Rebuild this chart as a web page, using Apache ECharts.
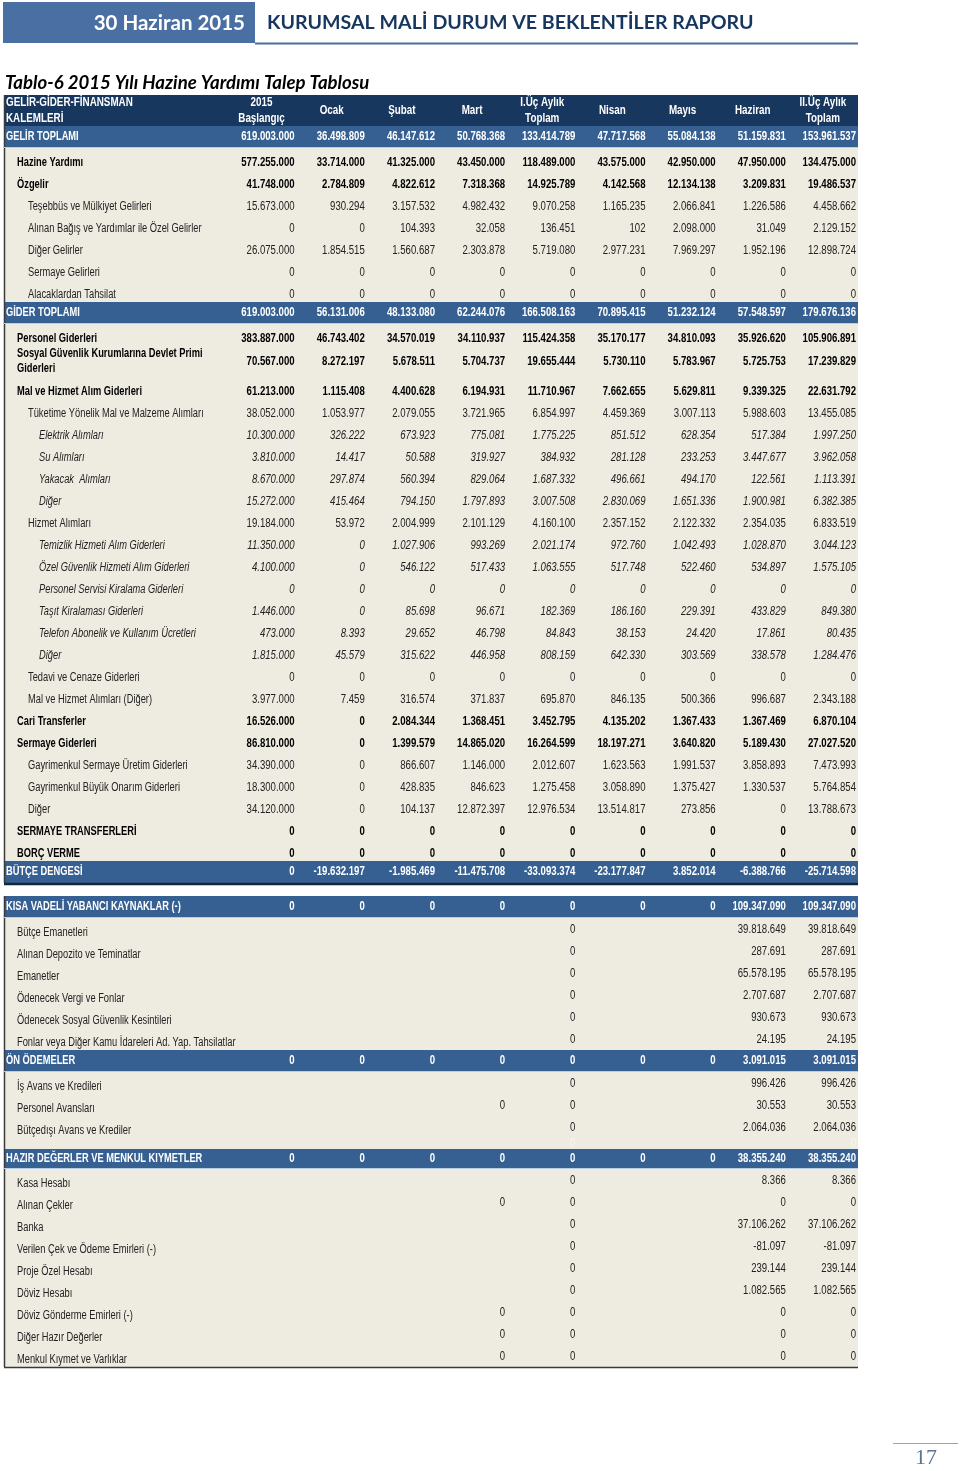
<!DOCTYPE html>
<html>
<head>
<meta charset="utf-8">
<script src="https://cdn.jsdelivr.net/npm/echarts@6/dist/echarts.min.js"></script>
<style>
html,body{margin:0;padding:0;background:#ffffff;}
#chart{width:960px;height:1471px;}
</style>
</head>
<body>
<div id="chart"></div>
<script>
// ---------------- DATA ----------------
const pageDate = '30 Haziran 2015';
const reportTitle = 'KURUMSAL MALİ DURUM VE BEKLENTİLER RAPORU';
const tableTitle = 'Tablo-6 2015 Yılı Hazine Yardımı Talep Tablosu';
const pageNumber = '17';

const headerLabel = 'GELİR-GİDER-FİNANSMAN\nKALEMLERİ';
const columns = ['2015\nBaşlangıç', 'Ocak', 'Şubat', 'Mart', 'I.Üç Aylık\nToplam', 'Nisan', 'Mayıs', 'Haziran', 'II.Üç Aylık\nToplam'];

const gelirLabels = ['GELİR TOPLAMI', 'Hazine Yardımı', 'Özgelir', 'Teşebbüs ve Mülkiyet Gelirleri',
  'Alınan Bağış ve Yardımlar ile Özel Gelirler', 'Diğer Gelirler', 'Sermaye Gelirleri', 'Alacaklardan Tahsilat'];
const gelirValues = [
  [619003000, 36498809, 46147612, 50768368, 133414789, 47717568, 55084138, 51159831, 153961537],
  [577255000, 33714000, 41325000, 43450000, 118489000, 43575000, 42950000, 47950000, 134475000],
  [41748000, 2784809, 4822612, 7318368, 14925789, 4142568, 12134138, 3209831, 19486537],
  [15673000, 930294, 3157532, 4982432, 9070258, 1165235, 2066841, 1226586, 4458662],
  [0, 0, 104393, 32058, 136451, 102, 2098000, 31049, 2129152],
  [26075000, 1854515, 1560687, 2303878, 5719080, 2977231, 7969297, 1952196, 12898724],
  [0, 0, 0, 0, 0, 0, 0, 0, 0],
  [0, 0, 0, 0, 0, 0, 0, 0, 0]
];

const giderLabels = ['GİDER TOPLAMI', 'Personel Giderleri', 'Sosyal Güvenlik Kurumlarına Devlet Primi\nGiderleri',
  'Mal ve Hizmet Alım Giderleri', 'Tüketime Yönelik Mal ve Malzeme Alımları', 'Elektrik Alımları', 'Su Alımları',
  'Yakacak  Alımları', 'Diğer', 'Hizmet Alımları', 'Temizlik Hizmeti Alım Giderleri',
  'Özel Güvenlik Hizmeti Alım Giderleri', 'Personel Servisi Kiralama Giderleri', 'Taşıt Kiralaması Giderleri',
  'Telefon Abonelik ve Kullanım Ücretleri', 'Diğer', 'Tedavi ve Cenaze Giderleri', 'Mal ve Hizmet Alımları (Diğer)',
  'Cari Transferler', 'Sermaye Giderleri', 'Gayrimenkul Sermaye Üretim Giderleri', 'Gayrimenkul Büyük Onarım Giderleri',
  'Diğer', 'SERMAYE TRANSFERLERİ', 'BORÇ VERME'];
const giderValues = [
  [619003000, 56131006, 48133080, 62244076, 166508163, 70895415, 51232124, 57548597, 179676136],
  [383887000, 46743402, 34570019, 34110937, 115424358, 35170177, 34810093, 35926620, 105906891],
  [70567000, 8272197, 5678511, 5704737, 19655444, 5730110, 5783967, 5725753, 17239829],
  [61213000, 1115408, 4400628, 6194931, 11710967, 7662655, 5629811, 9339325, 22631792],
  [38052000, 1053977, 2079055, 3721965, 6854997, 4459369, 3007113, 5988603, 13455085],
  [10300000, 326222, 673923, 775081, 1775225, 851512, 628354, 517384, 1997250],
  [3810000, 14417, 50588, 319927, 384932, 281128, 233253, 3447677, 3962058],
  [8670000, 297874, 560394, 829064, 1687332, 496661, 494170, 122561, 1113391],
  [15272000, 415464, 794150, 1797893, 3007508, 2830069, 1651336, 1900981, 6382385],
  [19184000, 53972, 2004999, 2101129, 4160100, 2357152, 2122332, 2354035, 6833519],
  [11350000, 0, 1027906, 993269, 2021174, 972760, 1042493, 1028870, 3044123],
  [4100000, 0, 546122, 517433, 1063555, 517748, 522460, 534897, 1575105],
  [0, 0, 0, 0, 0, 0, 0, 0, 0],
  [1446000, 0, 85698, 96671, 182369, 186160, 229391, 433829, 849380],
  [473000, 8393, 29652, 46798, 84843, 38153, 24420, 17861, 80435],
  [1815000, 45579, 315622, 446958, 808159, 642330, 303569, 338578, 1284476],
  [0, 0, 0, 0, 0, 0, 0, 0, 0],
  [3977000, 7459, 316574, 371837, 695870, 846135, 500366, 996687, 2343188],
  [16526000, 0, 2084344, 1368451, 3452795, 4135202, 1367433, 1367469, 6870104],
  [86810000, 0, 1399579, 14865020, 16264599, 18197271, 3640820, 5189430, 27027520],
  [34390000, 0, 866607, 1146000, 2012607, 1623563, 1991537, 3858893, 7473993],
  [18300000, 0, 428835, 846623, 1275458, 3058890, 1375427, 1330537, 5764854],
  [34120000, 0, 104137, 12872397, 12976534, 13514817, 273856, 0, 13788673],
  [0, 0, 0, 0, 0, 0, 0, 0, 0],
  [0, 0, 0, 0, 0, 0, 0, 0, 0]
];

const butceLabels = ['BÜTÇE DENGESİ'];
const butceValues = [
  [0, -19632197, -1985469, -11475708, -33093374, -23177847, 3852014, -6388766, -25714598]
];

const kisaLabels = ['KISA VADELİ YABANCI KAYNAKLAR (-)', 'Bütçe Emanetleri', 'Alınan Depozito ve Teminatlar', 'Emanetler',
  'Ödenecek Vergi ve Fonlar', 'Ödenecek Sosyal Güvenlik Kesintileri', 'Fonlar veya Diğer Kamu İdareleri Ad. Yap. Tahsilatlar'];
const kisaValues = [
  [0, 0, 0, 0, 0, 0, 0, 109347090, 109347090],
  [null, null, null, null, 0, null, null, 39818649, 39818649],
  [null, null, null, null, 0, null, null, 287691, 287691],
  [null, null, null, null, 0, null, null, 65578195, 65578195],
  [null, null, null, null, 0, null, null, 2707687, 2707687],
  [null, null, null, null, 0, null, null, 930673, 930673],
  [null, null, null, null, 0, null, null, 24195, 24195]
];

const onOdemeLabels = ['ÖN ÖDEMELER', 'İş Avans ve Kredileri', 'Personel Avansları', 'Bütçedışı Avans ve Krediler', ''];
const onOdemeValues = [
  [0, 0, 0, 0, 0, 0, 0, 3091015, 3091015],
  [null, null, null, null, 0, null, null, 996426, 996426],
  [null, null, null, 0, 0, null, null, 30553, 30553],
  [null, null, null, null, 0, null, null, 2064036, 2064036],
  [null, null, null, null, 0, null, null, null, 0]
];

const hazirLabels = ['HAZIR DEĞERLER VE MENKUL KIYMETLER', 'Kasa Hesabı', 'Alınan Çekler', 'Banka',
  'Verilen Çek ve Ödeme Emirleri (-)', 'Proje Özel Hesabı', 'Döviz Hesabı', 'Döviz Gönderme Emirleri (-)',
  'Diğer Hazır Değerler', 'Menkul Kıymet ve Varlıklar'];
const hazirValues = [
  [0, 0, 0, 0, 0, 0, 0, 38355240, 38355240],
  [null, null, null, null, 0, null, null, 8366, 8366],
  [null, null, null, 0, 0, null, null, 0, 0],
  [null, null, null, null, 0, null, null, 37106262, 37106262],
  [null, null, null, null, 0, null, null, -81097, -81097],
  [null, null, null, null, 0, null, null, 239144, 239144],
  [null, null, null, null, 0, null, null, 1082565, 1082565],
  [null, null, null, 0, 0, null, null, 0, 0],
  [null, null, null, 0, 0, null, null, 0, 0],
  [null, null, null, 0, 0, null, null, 0, 0]
];

// ---------------- STYLE / LAYOUT ----------------
const gelirKinds = ['band', 'bold', 'bold', 'n1', 'n1', 'n1', 'n1', 'n1'];
const giderKinds = ['band', 'bold', 'tall', 'bold', 'n1', 'it', 'it', 'it', 'it', 'n1', 'it', 'it', 'it', 'it', 'it', 'it',
  'n1', 'n1', 'bold', 'bold', 'n1', 'n1', 'n1', 'bold', 'bold'];
const butceKinds = ['bandEnd'];
const kisaKinds = ['band', 'sub', 'sub', 'sub', 'sub', 'sub', 'sub'];
const onOdemeKinds = ['band', 'sub', 'sub', 'sub', 'faint'];
const hazirKinds = ['bandS', 'sub', 'sub', 'sub', 'sub', 'sub', 'sub', 'sub', 'sub', 'sub'];

const kindStyle = {
  header:  {h: 31, bg: '#17375e', color: '#ffffff', weight: 'bold', style: 'normal', indent: 2, vdy: 0},
  band:    {h: 22, bg: '#366092', color: '#ffffff', weight: 'bold', style: 'normal', indent: 2, vdy: 0, mid: true},
  bandS:   {h: 20, bg: '#366092', color: '#ffffff', weight: 'bold', style: 'normal', indent: 2, vdy: 0, mid: true},
  bandEnd: {h: 22, bg: '#366092', color: '#ffffff', weight: 'bold', style: 'normal', indent: 2, vdy: 0, mid: true},
  bold:    {h: 22, bg: '#eeece1', color: '#000000', weight: 'bold', style: 'normal', indent: 13, vdy: 0},
  tall:    {h: 31, bg: '#eeece1', color: '#000000', weight: 'bold', style: 'normal', indent: 13, vdy: 0, mid: true},
  n1:      {h: 22, bg: '#eeece1', color: '#222222', weight: 'normal', style: 'normal', indent: 24, vdy: 0},
  it:      {h: 22, bg: '#eeece1', color: '#222222', weight: 'normal', style: 'italic', indent: 35, vdy: 0},
  sub:     {h: 22, bg: '#eeece1', color: '#222222', weight: 'normal', style: 'normal', indent: 13, vdy: -3},
  faint:   {h: 11, bg: '#eeece1', color: '#f7f6f0', weight: 'normal', style: 'normal', indent: 13, vdy: -1, mid: true},
  gap:     {h: 13, bg: 'rgba(0,0,0,0)', color: '#000', weight: 'normal', style: 'normal', indent: 0, vdy: 0}
};

const tableFont = '"Liberation Sans", Arial, sans-serif';
const narrowValue = 0.80;
const narrowLabel = 0.775;
const narrowHeader = 0.82;

// ---------------- BUILD ROWS ----------------
const rows = [];
function addRows(labels, values, kinds) {
  labels.forEach((lab, i) => rows.push({label: lab, values: values ? values[i] : null, kind: kinds[i]}));
}
rows.push({label: headerLabel, values: null, kind: 'header'});
addRows(gelirLabels, gelirValues, gelirKinds);
addRows(giderLabels, giderValues, giderKinds);
addRows(butceLabels, butceValues, butceKinds);
rows.push({label: '', values: null, kind: 'gap'});
addRows(kisaLabels, kisaValues, kisaKinds);
addRows(onOdemeLabels, onOdemeValues, onOdemeKinds);
addRows(hazirLabels, hazirValues, hazirKinds);

let acc = 0;
rows.forEach(r => { r.y0 = acc; acc += kindStyle[r.kind].h; r.y1 = acc; });
const totalH = acc;

const cells = [];
rows.forEach((r, ri) => {
  if (!r.values) return;
  r.values.forEach((v, c) => { if (v !== null) cells.push([c + 1, r.y1, v, ri]); });
});

function fmt(v) {
  const s = Math.abs(v).toString().replace(/\B(?=(\d{3})+(?!\d))/g, '.');
  return (v < 0 ? '-' : '') + s;
}

const xMin = -3.17, xMax = 9;

function textEl(x, y, text, st, align, vAlign, lineHeight, sx) {
  return {
    type: 'text', x: x, y: y, scaleX: sx, scaleY: 1,
    style: {
      text: text, x: 0, y: 0, fill: st.color, align: align, verticalAlign: vAlign,
      fontFamily: tableFont, fontSize: st.fs || 12, fontWeight: st.weight, fontStyle: st.style,
      lineHeight: lineHeight || 15
    }
  };
}

function renderRow(params, api) {
  const r = rows[params.dataIndex];
  const st = kindStyle[r.kind];
  const tl = api.coord([xMin, r.y0]);
  const br = api.coord([xMax, r.y1]);
  const ch = [];
  if (r.kind === 'gap') return {type: 'group', children: ch};
  ch.push({type: 'rect', shape: {x: tl[0], y: tl[1], width: br[0] - tl[0], height: br[1] - tl[1]}, style: {fill: st.bg}});
  ch.push({type: 'line', shape: {x1: tl[0] + 0.5, y1: tl[1], x2: tl[0] + 0.5, y2: br[1]}, style: {stroke: '#3a3a3a', lineWidth: 1.5}});
  const midY = (tl[1] + br[1]) / 2;
  if (r.kind === 'header') {
    const hs = {color: st.color, weight: 'bold', style: 'normal', fs: 12};
    ch.push(textEl(tl[0] + st.indent, midY, r.label, hs, 'left', 'middle', 16, narrowHeader));
    columns.forEach((c, k) => {
      const p = api.coord([k + 0.5, r.y0]);
      ch.push(textEl(p[0], midY, c, hs, 'center', 'middle', 16, narrowHeader));
    });
  } else {
    const ly = st.mid ? midY : br[1] - 7;
    ch.push(textEl(tl[0] + st.indent, ly, r.label, st, 'left', 'middle', 15, narrowLabel));
  }
  if (r.kind === 'band' || r.kind === 'bandS') {
    ch.push({type: 'line', shape: {x1: tl[0], y1: br[1] - 0.5, x2: br[0], y2: br[1] - 0.5}, style: {stroke: '#b9cde4', lineWidth: 1}});
  }
  if (r.kind === 'bandEnd') {
    ch.push({type: 'line', shape: {x1: tl[0], y1: br[1] + 1, x2: br[0], y2: br[1] + 1}, style: {stroke: '#15253a', lineWidth: 2.5}});
  }
  if (params.dataIndex === rows.length - 1) {
    ch.push({type: 'line', shape: {x1: tl[0], y1: br[1] + 0.5, x2: br[0], y2: br[1] + 0.5}, style: {stroke: '#3a3a3a', lineWidth: 1.5}});
  }
  return {type: 'group', children: ch};
}

function renderCell(params, api) {
  const r = rows[api.value(3)];
  const st = kindStyle[r.kind];
  const p = api.coord([api.value(0), api.value(1)]);
  const top = api.coord([api.value(0), r.y0]);
  const y = st.mid ? (top[1] + p[1]) / 2 : p[1] - 7 + st.vdy;
  return textEl(p[0] - 2, y, fmt(api.value(2)), st, 'right', 'middle', 15, narrowValue);
}

const chart = echarts.init(document.getElementById('chart'), null, {renderer: 'canvas'});
chart.setOption({
  backgroundColor: '#ffffff',
  animation: false,
  grid: {left: 4, top: 95, width: 854, height: totalH},
  xAxis: {type: 'value', min: xMin, max: xMax, show: false},
  yAxis: {type: 'value', min: 0, max: totalH, inverse: true, show: false},
  graphic: [
    {type: 'rect', left: 3, top: 2, shape: {width: 252, height: 41}, style: {fill: '#4a6fa3'}},
    {type: 'text', x: 245, y: 23, style: {text: pageDate, fill: '#ffffff', align: 'right', verticalAlign: 'middle',
      fontFamily: 'Lato, "Open Sans", sans-serif', fontWeight: 'bold', fontSize: 20.5}},
    {type: 'text', x: 267, y: 23, style: {text: reportTitle, fill: '#17365d', align: 'left', verticalAlign: 'middle',
      fontFamily: 'Lato, "Open Sans", sans-serif', fontWeight: 'bold', fontSize: 19.6}},
    {type: 'line', shape: {x1: 255, y1: 43.5, x2: 858, y2: 43.5}, style: {stroke: '#4f6f96', lineWidth: 2}},
    {type: 'text', x: 5, y: 83, style: {text: tableTitle, fill: '#000000', align: 'left', verticalAlign: 'middle',
      fontFamily: 'Lato, "Open Sans", sans-serif', fontWeight: 'bold', fontStyle: 'italic', fontSize: 18.6}},
    {type: 'line', shape: {x1: 893, y1: 1443.5, x2: 958, y2: 1443.5}, style: {stroke: '#9aa6b4', lineWidth: 1}},
    {type: 'text', x: 926, y: 1458, style: {text: pageNumber, fill: '#5b7290', align: 'center', verticalAlign: 'middle',
      fontFamily: '"Liberation Serif", "DejaVu Serif", serif', fontSize: 22}}
  ],
  series: [
    {type: 'custom', renderItem: renderRow, data: rows.map(r => [0, r.y0]), encode: {x: 0, y: 1}, clip: false, silent: true, z: 2},
    {type: 'custom', renderItem: renderCell, data: cells, encode: {x: 0, y: 1}, clip: false, silent: true, z: 3}
  ]
});
</script>
</body>
</html>
